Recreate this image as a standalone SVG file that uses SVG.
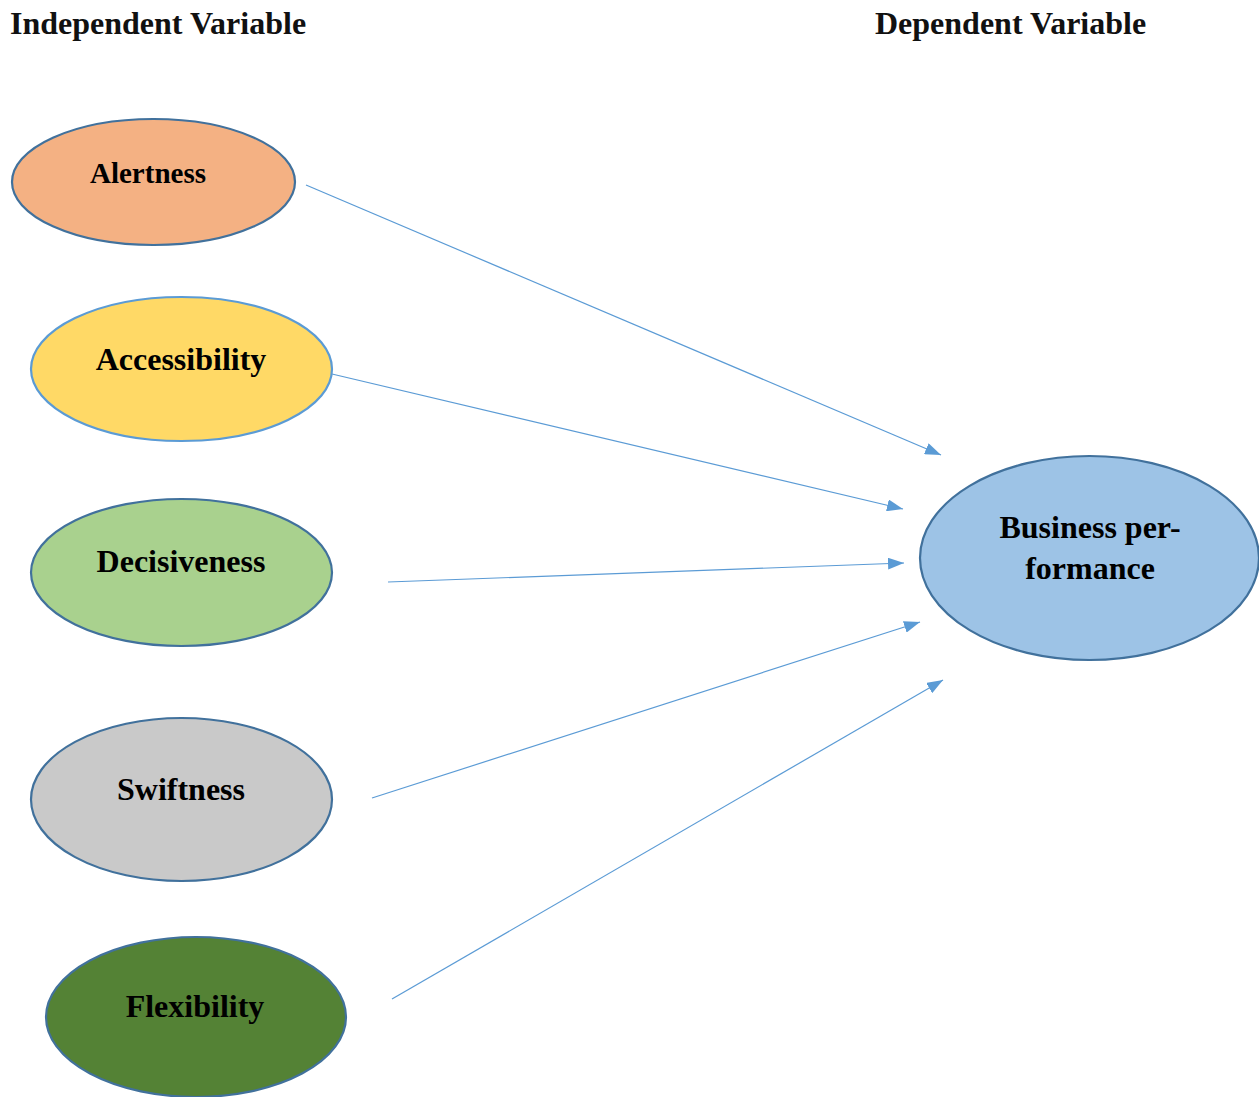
<svg xmlns="http://www.w3.org/2000/svg" width="1259" height="1097" viewBox="0 0 1259 1097">
<style>
.n{stroke:#41719C;stroke-width:2.2}
.t{font-family:"Liberation Serif","Times New Roman",serif;font-weight:bold;font-size:32px;fill:#000;text-anchor:middle}
.h{font-family:"Liberation Serif","Times New Roman",serif;font-weight:bold;font-size:32px;fill:#111}
.c{stroke:#5B9BD5;stroke-width:1.2;fill:none;marker-end:url(#ah)}
</style>
<defs>
<marker id="ah" markerWidth="16" markerHeight="12" refX="16" refY="6" orient="auto" markerUnits="userSpaceOnUse">
<path d="M0,0 L16,6 L0,12 Z" fill="#5B9BD5"/>
</marker>
</defs>
<rect width="1259" height="1097" fill="#fff"/>
<text class="h" x="10" y="34">Independent Variable</text>
<text class="h" x="875" y="34">Dependent Variable</text>
<g id="connectors">
<line class="c" x1="306" y1="185" x2="941" y2="455"/>
<line class="c" x1="332" y1="374" x2="903" y2="509"/>
<line class="c" x1="388" y1="582" x2="904" y2="563"/>
<line class="c" x1="372" y1="798" x2="920" y2="622"/>
<line class="c" x1="392" y1="999" x2="943" y2="680"/>
</g>
<g id="alertness">
<ellipse class="n" cx="153.5" cy="182" rx="141.5" ry="63" fill="#F4B183"/>
<text class="t" x="148" y="183" style="font-size:29px">Alertness</text>
</g>
<g id="accessibility">
<ellipse class="n" cx="181.5" cy="369" rx="150.5" ry="72" fill="#FFD966" style="stroke:#5B9BD5"/>
<text class="t" x="181" y="370">Accessibility</text>
</g>
<g id="decisiveness">
<ellipse class="n" cx="181.5" cy="572.5" rx="150.5" ry="73.5" fill="#A9D18E"/>
<text class="t" x="181" y="572">Decisiveness</text>
</g>
<g id="swiftness">
<ellipse class="n" cx="181.5" cy="799.5" rx="150.5" ry="81.5" fill="#C9C9C9"/>
<text class="t" x="181" y="800">Swiftness</text>
</g>
<g id="flexibility">
<ellipse class="n" cx="196" cy="1017" rx="150" ry="80" fill="#548235"/>
<text class="t" x="195" y="1017">Flexibility</text>
</g>
<g id="business-performance">
<ellipse class="n" cx="1089.5" cy="558" rx="169.5" ry="102" fill="#9DC3E6"/>
<text class="t" x="1090" y="538">Business per-</text>
<text class="t" x="1090" y="579">formance</text>
</g>
</svg>
